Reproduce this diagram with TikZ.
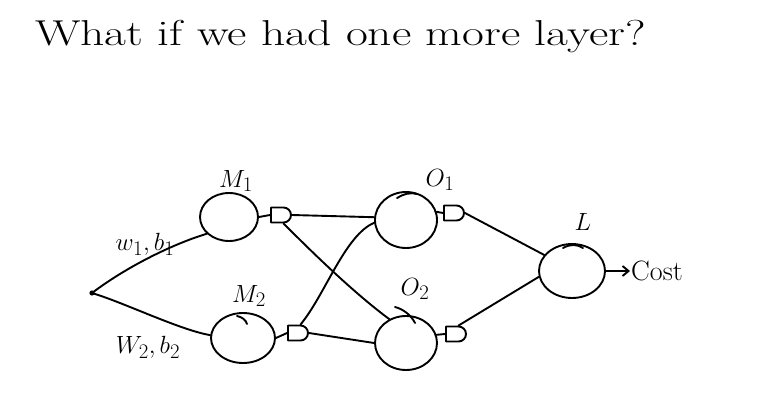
\documentclass[tikz,border=0pt]{standalone}
\usetikzlibrary{shapes.geometric,shapes.misc,arrows.meta}
\begin{document}
\begin{tikzpicture}[x=1pt,y=-1pt,
  pen/.style={line width=1.9pt, line cap=round, line join=round},
  neuron/.style={pen, draw, ellipse, inner sep=0pt},
  gate/.style={pen, draw, rounded rectangle, rounded rectangle west arc=none,
    minimum width=20pt, minimum height=15pt, inner sep=0pt},
  lbl/.style={font=\fontsize{28}{32}\selectfont, inner sep=1pt}]
\useasboundingbox (0,0) rectangle (768,409);
% title
\node[font=\fontsize{36}{42}\selectfont, anchor=base west, inner sep=0pt] (title) at (35,46)
  {\scalebox{1.32}[1]{What if we had one more layer?}};
% neurons
\node[neuron, minimum width=58pt, minimum height=48pt] (M1) at (229,217) {};
\node[neuron, minimum width=64pt, minimum height=50pt] (M2) at (243,338) {};
\node[neuron, minimum width=62pt, minimum height=56pt] (O1) at (406,220) {};
\node[neuron, minimum width=62pt, minimum height=54pt] (O2) at (406,343) {};
\node[neuron, minimum width=66pt, minimum height=54pt] (L) at (572,271) {};
% gates
\node[gate] (g1) at (281,215) {};
\node[gate] (g2) at (298,333) {};
\node[gate] (g3) at (454,213) {};
\node[gate] (g4) at (456,334) {};
% labels
\node[lbl] (tM1) at (236,181) {$M_1$};
\node[lbl] (tM2) at (249,296) {$M_2$};
\node[lbl] (tO1) at (440,180) {$O_1$};
\node[lbl] (tO2) at (415,289) {$O_2$};
\node[lbl] (tL) at (583,222) {$L$};
\node[lbl] (tw1) at (145,244) {$w_1,b_1$};
\node[lbl] (tw2) at (148,347) {$W_2,b_2$};
\node[lbl, anchor=west] (cost) at (630,271) {Cost};
% input point
\coordinate (in) at (92,293);
\fill (in) circle (2.6);
% small pen marks on the neurons
\draw[pen] (397,198) .. controls (403,194) and (411,192) .. (417,194);
\draw[pen] (395,307) .. controls (403,309) and (411,315) .. (415,323);
\draw[pen] (563,248) .. controls (570,244) and (577,244) .. (583,248);
\draw[pen] (237,316) .. controls (242,317) and (246,320) .. (247,324);
% connectors
\draw[pen] (in) .. controls (125,268) and (170,245) .. (M1.217);
\draw[pen] (in) .. controls (125,303) and (180,330) .. (M2.175);
\draw[pen] (M1.east) -- (g1.west);
\draw[pen] (M2.east) -- (g2.west);
\draw[pen] (O1.15) -- (g3.west);
\draw[pen] (O2.15) -- (g4.west);
\draw[pen] (g1.east) -- (O1.175);
\draw[pen] (g1.south east) .. controls (305,245) and (350,290) .. (O2.125);
\draw[pen] (g2.north east) .. controls (325,295) and (345,235) .. (O1.185);
\draw[pen] (g2.east) -- (O2.180);
\draw[pen] (g3.east) -- (L.150);
\draw[pen] (g4.north east) -- (L.190);
\draw[pen, -{Straight Barb[length=6pt,width=10pt]}] (L.east) -- (cost.west);
\end{tikzpicture}
\end{document}
